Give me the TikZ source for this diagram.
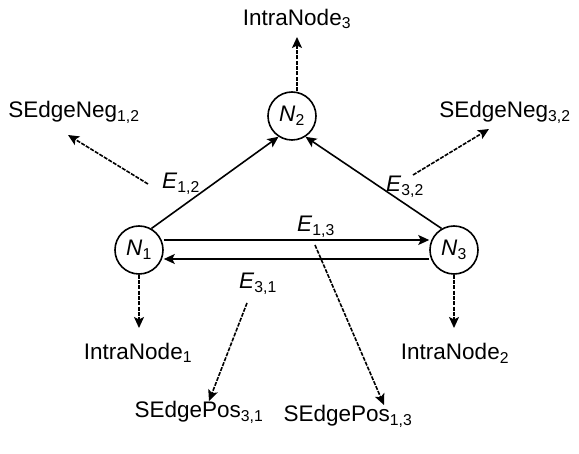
\documentclass[tikz,border=0pt]{standalone}
\usepackage{fontspec}
\setmainfont{Liberation Sans}
\usetikzlibrary{arrows.meta}
\tikzset{
  st/.style={circle, draw, line width=1.6pt, minimum size=48pt, inner sep=0pt},
  lbl/.style={inner sep=0pt},
  mainarrow/.style={line width=1.6pt, -{Stealth[length=11pt,width=10pt,inset=2.5pt]}},
  auxarrow/.style={mainarrow, dash pattern=on 4pt off 1.3pt},
}
\begin{document}
\begin{tikzpicture}[x=1pt,y=-1pt,font=\fontsize{22.5}{26}\selectfont]
\useasboundingbox (0,0) rectangle (579,454);
% state nodes
\node[st] (N1) at (139,250) {\textit{N}\textsubscript{1}};
\node[st] (N2) at (292,116) {\textit{N}\textsubscript{2}};
\node[st] (N3) at (454,250) {\textit{N}\textsubscript{3}};
% text labels
\node[lbl] (I3) at (297,19) {IntraNode\textsubscript{3}};
\node[lbl] (I1) at (138,353) {IntraNode\textsubscript{1}};
\node[lbl] (I2) at (455,353) {IntraNode\textsubscript{2}};
\node[lbl] (SN12) at (74,112) {SEdgeNeg\textsubscript{1,2}};
\node[lbl] (SN32) at (505,112) {SEdgeNeg\textsubscript{3,2}};
\node[lbl] (SP31) at (199,412) {SEdgePos\textsubscript{3,1}};
\node[lbl] (SP13) at (348,416) {SEdgePos\textsubscript{1,3}};
\node[lbl] (E12) at (181,184) {\textit{E}\textsubscript{1,2}};
\node[lbl] (E32) at (405,187) {\textit{E}\textsubscript{3,2}};
\node[lbl] (E13) at (316,227) {\textit{E}\textsubscript{1,3}};
\node[lbl] (E31) at (258,284) {\textit{E}\textsubscript{3,1}};
% main edges
\draw[mainarrow] (N1.60) -- (N2.237);
\draw[mainarrow] (N3.120) -- (N2.303);
\draw[mainarrow] (N1.east |- 0,240) -- (N3.west |- 0,240);
\draw[mainarrow] (N3.west |- 0,259) -- (N1.east |- 0,259);
% auxiliary edges
\coordinate (u3) at (297,37);
\coordinate (d1) at (139,328);
\coordinate (d2) at (454,328);
\draw[auxarrow] (N2.north -| u3) -- (u3);
\draw[auxarrow] (N1.south) -- (d1);
\draw[auxarrow] (N3.south) -- (d2);
\coordinate (a12) at (148,184);
\coordinate (b12) at (68,135);
\coordinate (a32) at (413,175);
\coordinate (b32) at (489,129);
\coordinate (a31) at (247,303);
\coordinate (b31) at (209,401);
\coordinate (a13) at (315,245);
\coordinate (b13) at (384,405);
\draw[auxarrow] (a12) -- (b12);
\draw[auxarrow] (a32) -- (b32);
\draw[auxarrow] (a31) -- (b31);
\draw[auxarrow] (a13) -- (b13);
\end{tikzpicture}
\end{document}
